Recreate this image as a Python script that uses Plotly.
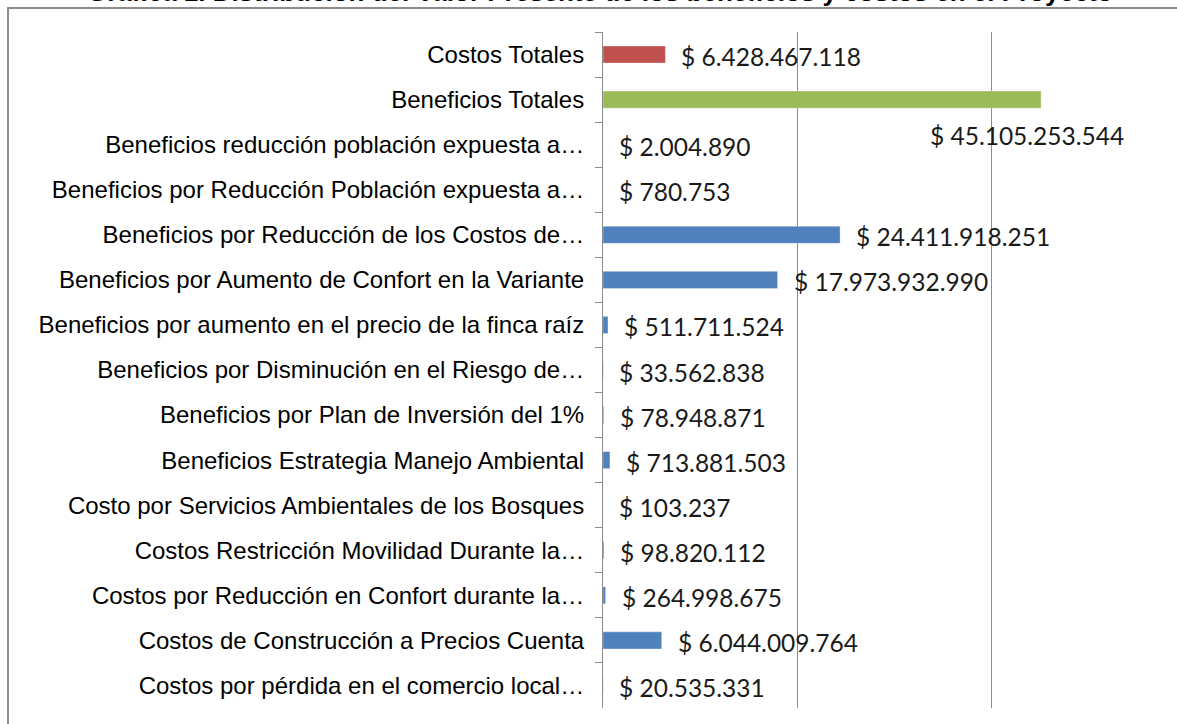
import plotly.graph_objects as go

# Present value of project benefits and costs (COP)
categorias = [
    "Costos Totales",
    "Beneficios Totales",
    "Beneficios reducción población expuesta a…",
    "Beneficios por Reducción Población expuesta a…",
    "Beneficios por Reducción de los Costos de…",
    "Beneficios por Aumento de Confort en la Variante",
    "Beneficios por aumento en el precio de la finca raíz",
    "Beneficios por Disminución en el Riesgo de…",
    "Beneficios por Plan de Inversión del 1%",
    "Beneficios Estrategia Manejo Ambiental",
    "Costo por Servicios Ambientales de los Bosques",
    "Costos Restricción Movilidad Durante la…",
    "Costos por Reducción en Confort durante la…",
    "Costos de Construcción a Precios Cuenta",
    "Costos por pérdida en el comercio local…",
]
valores = [
    6428467118,
    45105253544,
    2004890,
    780753,
    24411918251,
    17973932990,
    511711524,
    33562838,
    78948871,
    713881503,
    103237,
    98820112,
    264998675,
    6044009764,
    20535331,
]
COLOR_COSTOS = "#C0504D"
COLOR_TOTAL_BEN = "#9BBB59"
COLOR_DETALLE = "#4F81BD"
colores = [COLOR_COSTOS, COLOR_TOTAL_BEN] + [COLOR_DETALLE] * (len(categorias) - 2)

titulo = "Gráfica 1. Distribución del Valor Presente de los beneficios y costos en el Proyecto"


def pesos(v):
    return "$ " + f"{v:,}".replace(",", ".")


W, H = 1177, 724
ML, MR, MT, MB = 603, 0, 32, 16
PW, PH = W - ML - MR, H - MT - MB

fig = go.Figure(
    go.Bar(
        x=valores,
        y=categorias,
        orientation="h",
        marker=dict(color=colores, line=dict(color="rgba(255,255,255,0.35)", width=1)),
        hoverinfo="x+y",
    )
)

FUENTE_VALOR = dict(family="Lato", size=24.5, color="#1a1a1a")

anotaciones = []
for cat, val in zip(categorias, valores):
    if cat == "Beneficios Totales":
        anotaciones.append(dict(
            x=val, y=cat, xref="x", yref="y", text=pesos(val), showarrow=False,
            xanchor="center", yanchor="middle", xshift=-14, yshift=-36,
            font=FUENTE_VALOR,
        ))
    else:
        anotaciones.append(dict(
            x=val, y=cat, xref="x", yref="y", text=pesos(val), showarrow=False,
            xanchor="left", yanchor="middle", xshift=14, yshift=-2,
            font=FUENTE_VALOR,
        ))

# chart title sitting above the visible frame
anotaciones.append(dict(
    x=(600 - ML) / PW, y=1 + (MT - 9) / PH, xref="paper", yref="paper",
    text="<b>" + titulo + "</b>", showarrow=False, xanchor="center", yanchor="bottom",
    font=dict(family="Liberation Sans", size=26, color="#000000"),
))

fig.update_layout(
    width=W, height=H,
    margin=dict(l=ML, r=MR, t=MT, b=MB, pad=0),
    paper_bgcolor="white", plot_bgcolor="white",
    showlegend=False,
    bargap=0.62,
    annotations=anotaciones,
    font=dict(family="Liberation Sans", size=24, color="#000000"),
    shapes=[dict(
        type="rect", xref="paper", yref="paper", layer="below",
        x0=(8 - ML) / PW, x1=(W + 20 - ML) / PW,
        y0=1 + (MT - 8) / PH, y1=-(H + 20 - MT - PH) / PH - 0.2,
        line=dict(color="#8C8C8C", width=2), fillcolor="rgba(0,0,0,0)",
    )],
)

fig.update_xaxes(
    range=[0, 59.1e9], dtick=20e9, tick0=0,
    showgrid=True, gridcolor="#8C8C8C", gridwidth=1,
    showticklabels=False, zeroline=False, showline=False, ticks="",
)
fig.update_yaxes(
    autorange="reversed", showgrid=False,
    showline=True, linecolor="#8C8C8C", linewidth=1,
    ticks="outside", ticklen=7, tickcolor="#8C8C8C", tickson="boundaries",
    ticklabelstandoff=13,
    tickfont=dict(family="Liberation Sans", size=24, color="#000000"),
)

fig.write_html("out.html")
